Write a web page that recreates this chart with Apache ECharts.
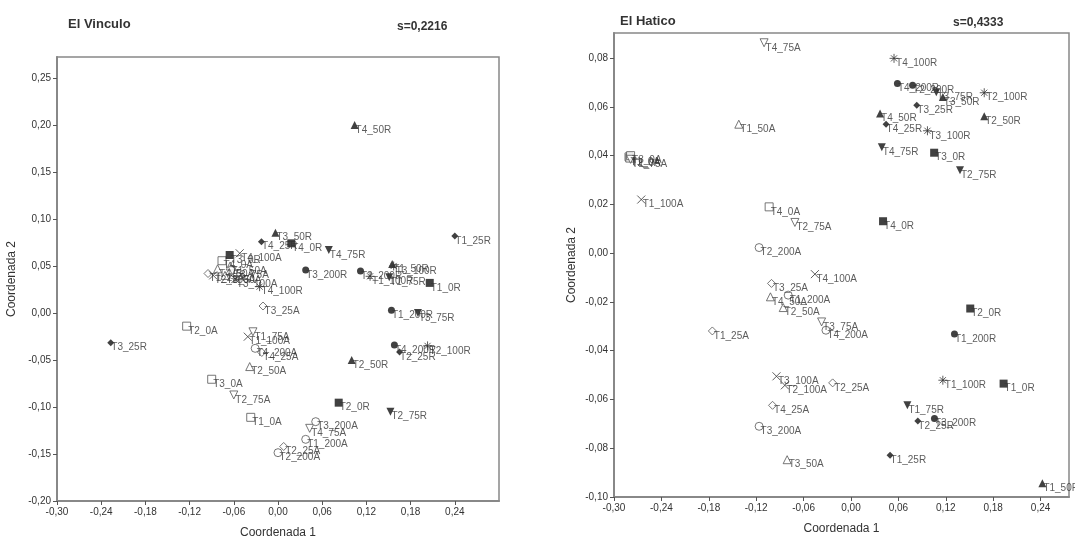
<!DOCTYPE html>
<html><head><meta charset="utf-8">
<script src="https://cdn.jsdelivr.net/npm/echarts@6/dist/echarts.min.js"></script>
<style>html,body{margin:0;padding:0;background:#fff}#c{width:1075px;height:538px}</style>
</head><body><div id="c"></div>
<script>
const treatments = ['T1','T2','T3','T4'];
const levels = ['0A','25A','50A','75A','100A','200A','0R','25R','50R','75R','100R','200R'];

// El Vinculo: [x, y] per treatment T1..T4
const vinculo_0A   = [[-0.037,-0.111],[-0.124,-0.014],[-0.090,-0.0705],[-0.076,0.0556]];
const vinculo_25A  = [[-0.095,0.042],[0.0077,-0.142],[-0.0203,0.0074],[-0.022,-0.042]];
const vinculo_50A  = [[-0.065,0.050],[-0.0384,-0.057],[-0.072,0.040],[-0.082,0.047]];
const vinculo_75A  = [[-0.034,-0.020],[-0.060,-0.0872],[-0.062,0.045],[0.043,-0.1227]];
const vinculo_100A = [[-0.041,-0.0252],[-0.088,0.040],[-0.058,0.036],[-0.052,0.0635]];
const vinculo_200A = [[0.0376,-0.1344],[0.000,-0.1486],[0.0512,-0.1156],[-0.031,-0.0376]];
const vinculo_0R   = [[0.206,0.032],[0.0824,-0.0954],[-0.0656,0.0617],[0.018,0.0741]];
const vinculo_25R  = [[0.240,0.082],[0.165,-0.0415],[-0.227,-0.0316],[-0.0225,0.0759]];
const vinculo_50R  = [[0.155,0.052],[0.100,-0.050],[-0.0035,0.0854],[0.104,0.200]];
const vinculo_75R  = [[0.151,0.038],[0.1526,-0.105],[0.190,0.000],[0.069,0.067]];
const vinculo_100R = [[0.125,0.039],[0.203,-0.035],[0.157,0.050],[-0.025,0.028]];
const vinculo_200R = [[0.154,0.003],[0.112,0.0447],[0.0376,0.0457],[0.158,-0.034]];

// El Hatico
const hatico_0A   = [[-0.281,0.0395],[-0.280,0.039],[-0.279,0.040],[-0.1036,0.019]];
const hatico_25A  = [[-0.1755,-0.0319],[-0.0232,-0.0532],[-0.1006,-0.0124],[-0.0993,-0.0624]];
const hatico_50A  = [[-0.142,0.0529],[-0.0858,-0.0223],[-0.0808,-0.0847],[-0.102,-0.0179]];
const hatico_75A  = [[-0.279,0.0385],[-0.071,0.0126],[-0.0372,-0.0282],[-0.110,0.0863]];
const hatico_100A = [[-0.2655,0.022],[-0.0837,-0.0542],[-0.0943,-0.0505],[-0.0457,-0.0086]];
const hatico_200A = [[-0.0795,-0.0172],[-0.1163,0.0023],[-0.1163,-0.071],[-0.0317,-0.0316]];
const hatico_0R   = [[0.1932,-0.0535],[0.151,-0.0227],[0.1053,0.0412],[0.0406,0.0131]];
const hatico_25R  = [[0.0495,-0.0829],[0.0846,-0.0688],[0.0833,0.0607],[0.0444,0.0529]];
const hatico_50R  = [[0.2423,-0.0944],[0.1687,0.0562],[0.1163,0.0641],[0.0368,0.0573]];
const hatico_75R  = [[0.0714,-0.0624],[0.138,0.034],[0.108,0.066],[0.039,0.0434]];
const hatico_100R = [[0.1163,-0.0521],[0.1687,0.0658],[0.0968,0.0502],[0.0545,0.0799]];
const hatico_200R = [[0.131,-0.0332],[0.078,0.0689],[0.1057,-0.0678],[0.0588,0.0696]];

const xTicks = [-0.30,-0.24,-0.18,-0.12,-0.06,0.00,0.06,0.12,0.18,0.24];
const vinculoYTicks = [-0.20,-0.15,-0.10,-0.05,0.00,0.05,0.10,0.15,0.20,0.25];
const haticoYTicks = [-0.10,-0.08,-0.06,-0.04,-0.02,0.00,0.02,0.04,0.06,0.08];

const vinculoData = {'0A':vinculo_0A,'25A':vinculo_25A,'50A':vinculo_50A,'75A':vinculo_75A,'100A':vinculo_100A,'200A':vinculo_200A,
  '0R':vinculo_0R,'25R':vinculo_25R,'50R':vinculo_50R,'75R':vinculo_75R,'100R':vinculo_100R,'200R':vinculo_200R};
const haticoData = {'0A':hatico_0A,'25A':hatico_25A,'50A':hatico_50A,'75A':hatico_75A,'100A':hatico_100A,'200A':hatico_200A,
  '0R':hatico_0R,'25R':hatico_25R,'50R':hatico_50R,'75R':hatico_75R,'100R':hatico_100R,'200R':hatico_200R};

const FONT = 'Liberation Sans, Arial, sans-serif';
const CROSS = 'path://M0,0L10,10M10,0L0,10';
const STAR = 'path://M5,0L5,10M0,5L10,5M1.6,1.6L8.4,8.4M8.4,1.6L1.6,8.4';

function symbolFor(level){
  const open = level.endsWith('A');
  const n = level.slice(0,-1);
  let s;
  if(n==='0') s = {symbol:'rect', size:8, rotate:0};
  else if(n==='25') s = {symbol:'diamond', size:open?8:7, rotate:0};
  else if(n==='50') s = {symbol:'triangle', size:8, rotate:0};
  else if(n==='75') s = {symbol:'triangle', size:8, rotate:180};
  else if(n==='100') s = {symbol: open ? CROSS : STAR, size: open?8:9, rotate:0, stroke:true};
  else s = {symbol:'circle', size:open?8:7, rotate:0};
  s.open = open;
  return s;
}

function fmt(v){ if(Math.abs(v)<1e-9) v=0; return v.toFixed(2).replace('.',','); }

function buildSeries(dataMap, idx){
  return levels.map(level=>{
    const s = symbolFor(level);
    let itemStyle;
    if(s.stroke) itemStyle = {color:'rgba(0,0,0,0)', borderColor:'#333', borderWidth:1};
    else if(s.open) itemStyle = {color:'#fff', borderColor:'#555', borderWidth:1};
    else itemStyle = {color:'#111', borderColor:'#111', borderWidth:0};
    return {
      type:'scatter', xAxisIndex:idx, yAxisIndex:idx,
      symbol:s.symbol, symbolSize:s.size, symbolRotate:s.rotate,
      itemStyle, emphasis:{disabled:true}, animation:false,
      label:{show:true, position:'right', distance:0, offset:[-3,5], formatter:'{b}', fontSize:10, color:'#333', fontFamily:FONT},
      data: dataMap[level].map((p,i)=>({name: treatments[i]+'_'+level, value:p}))
    };
  });
}

function xAxis(idx, max){
  return {gridIndex:idx, type:'value', min:-0.30, max:max, interval:0.06,
    name:'Coordenada 1', nameLocation:'middle', nameGap:26,
    nameTextStyle:{fontSize:12, color:'#333', fontFamily:FONT},
    axisLine:{show:true, onZero:false, lineStyle:{color:'#888', width:2}},
    axisTick:{show:true, length:4, lineStyle:{color:'#555'}, customValues:xTicks},
    axisLabel:{fontSize:10, color:'#333', fontFamily:FONT, margin:6, customValues:xTicks, formatter:fmt},
    splitLine:{show:false}};
}
function yAxis(idx, min, max, interval, ticks, gap){
  return {gridIndex:idx, type:'value', min:min, max:max, interval:interval,
    name:'Coordenada 2', nameLocation:'middle', nameGap:gap,
    nameTextStyle:{fontSize:12, color:'#333', fontFamily:FONT},
    axisLine:{show:true, onZero:false, lineStyle:{color:'#888', width:2}},
    axisTick:{show:true, length:4, lineStyle:{color:'#555'}, customValues:ticks},
    axisLabel:{fontSize:10, color:'#333', fontFamily:FONT, margin:6, customValues:ticks, formatter:fmt},
    splitLine:{show:false}};
}

const chart = echarts.init(document.getElementById('c'), null, {renderer:'canvas'});
chart.setOption({
  animation:false,
  backgroundColor:'#fff',
  title:[
    {text:'El Vinculo', left:63, top:13, textStyle:{fontSize:13, fontWeight:'bold', color:'#333', fontFamily:FONT}},
    {text:'s=0,2216', left:392, top:16, textStyle:{fontSize:12, fontWeight:'bold', color:'#333', fontFamily:FONT}},
    {text:'El Hatico', left:615, top:10, textStyle:{fontSize:13, fontWeight:'bold', color:'#333', fontFamily:FONT}},
    {text:'s=0,4333', left:948, top:12, textStyle:{fontSize:12, fontWeight:'bold', color:'#333', fontFamily:FONT}}
  ],
  grid:[
    {left:57, top:57, width:442, height:444, show:true, borderColor:'#888', borderWidth:1.5, backgroundColor:'transparent', containLabel:false, outerBoundsMode:'none'},
    {left:614, top:33, width:455, height:464, show:true, borderColor:'#888', borderWidth:1.5, backgroundColor:'transparent', containLabel:false, outerBoundsMode:'none'}
  ],
  xAxis:[ xAxis(0, 0.30), xAxis(1, 0.276) ],
  yAxis:[ yAxis(0, -0.20, 0.2723, 0.05, vinculoYTicks, 39), yAxis(1, -0.10, 0.0903, 0.02, haticoYTicks, 36) ],
  series: buildSeries(vinculoData, 0).concat(buildSeries(haticoData, 1))
});
</script>
</body></html>
